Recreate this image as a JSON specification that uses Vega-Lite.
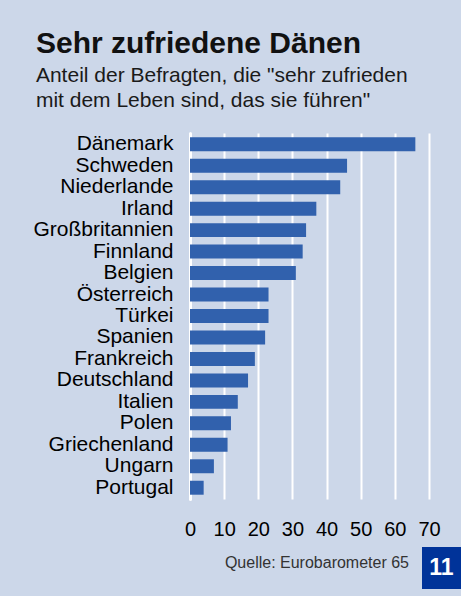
{
  "$schema": "https://vega.github.io/schema/vega-lite/v6.json",
  "background": "#CCD7E9",
  "padding": {"left": 32, "right": 0, "top": 28, "bottom": 9},
  "config": {
    "font": "Liberation Sans",
    "view": {"stroke": null}
  },
  "title": {
    "text": "Sehr zufriedene Dänen",
    "subtitle": ["Anteil der Befragten, die \"sehr zufrieden", "mit dem Leben sind, das sie führen\""],
    "anchor": "start",
    "frame": "bounds",
    "dx": 3,
    "font": "Liberation Sans",
    "fontSize": 30,
    "fontWeight": "bold",
    "color": "#111111",
    "subtitleFont": "Liberation Sans",
    "subtitleFontSize": 21,
    "subtitleColor": "#1a1a1a",
    "subtitleLineHeight": 25,
    "subtitlePadding": 6,
    "offset": 22
  },
  "spacing": 8,
  "vconcat": [
    {
      "width": 239,
      "height": 366,
      "data": {
        "values": [
          {"land": "Dänemark", "wert": 66},
          {"land": "Schweden", "wert": 46},
          {"land": "Niederlande", "wert": 44},
          {"land": "Irland", "wert": 37},
          {"land": "Großbritannien", "wert": 34},
          {"land": "Finnland", "wert": 33},
          {"land": "Belgien", "wert": 31},
          {"land": "Österreich", "wert": 23},
          {"land": "Türkei", "wert": 23},
          {"land": "Spanien", "wert": 22},
          {"land": "Frankreich", "wert": 19},
          {"land": "Deutschland", "wert": 17},
          {"land": "Italien", "wert": 14},
          {"land": "Polen", "wert": 12},
          {"land": "Griechenland", "wert": 11},
          {"land": "Ungarn", "wert": 7},
          {"land": "Portugal", "wert": 4}
        ]
      },
      "mark": {"type": "bar", "color": "#3161AD"},
      "encoding": {
        "y": {
          "field": "land",
          "type": "nominal",
          "sort": null,
          "scale": {"paddingInner": 0.35, "paddingOuter": 0.2},
          "axis": {
            "title": null,
            "ticks": false,
            "domain": true,
            "domainColor": "white",
            "domainWidth": 3,
            "domainCap": "round",
            "labelFontSize": 21,
            "labelColor": "#000000",
            "labelPadding": 17,
            "grid": false
          }
        },
        "x": {
          "field": "wert",
          "type": "quantitative",
          "scale": {"domain": [0, 70], "nice": false},
          "axis": {
            "title": null,
            "values": [0, 10, 20, 30, 40, 50, 60, 70],
            "domain": false,
            "ticks": false,
            "grid": true,
            "gridColor": "white",
            "gridWidth": 2,
            "gridOpacity": 1,
            "labelFontSize": 20,
            "labelColor": "#000000",
            "labelPadding": 20,
            "labelFlush": false
          }
        }
      }
    },
    {
      "spacing": 13,
      "hconcat": [
        {
          "width": 219,
          "height": 42,
          "data": {"values": [{"quelle": "Quelle: Eurobarometer 65"}]},
          "mark": {"type": "text", "align": "right", "baseline": "alphabetic", "fontSize": 16, "color": "#333333"},
          "encoding": {
            "text": {"field": "quelle"},
            "x": {"value": "width"}
          }
        },
        {
          "width": 39,
          "height": 42,
          "view": {"fill": "#003399", "stroke": null},
          "data": {"values": [{"seite": "11"}]},
          "mark": {"type": "text", "align": "center", "baseline": "middle", "fontSize": 23, "fontWeight": "bold", "color": "white"},
          "encoding": {
            "text": {"field": "seite"}
          }
        }
      ]
    }
  ]
}
